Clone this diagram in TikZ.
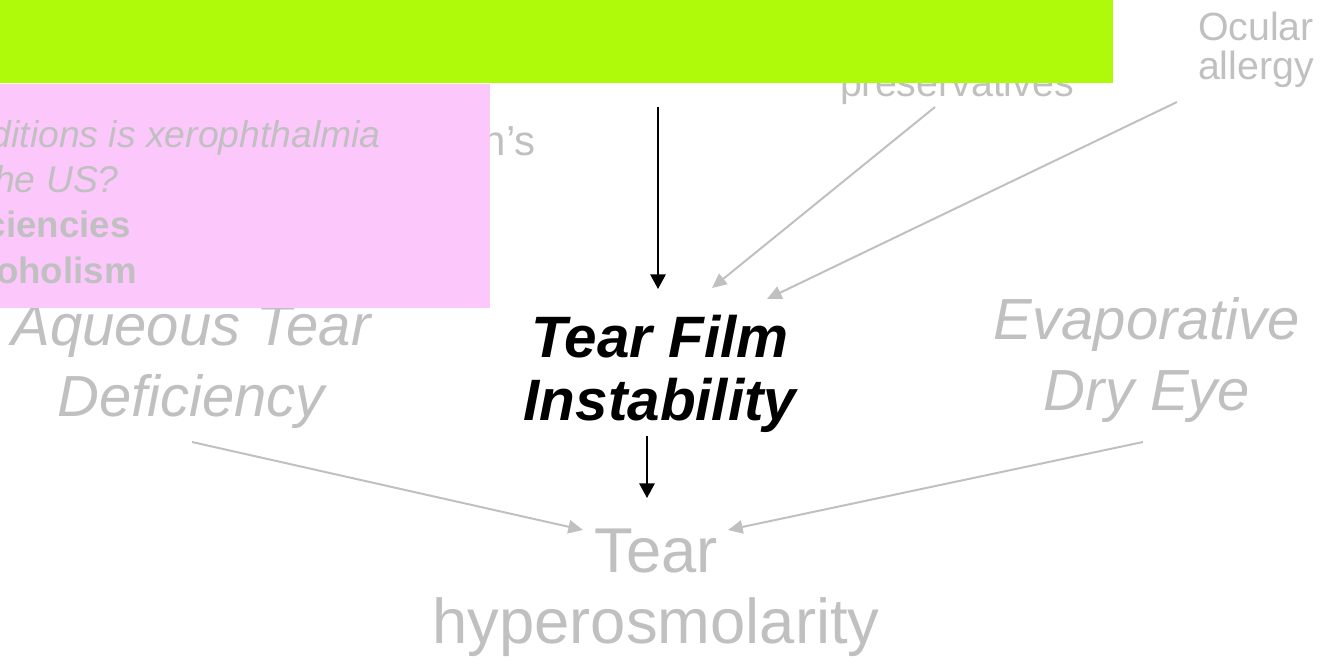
\documentclass[tikz,border=0pt]{standalone}
\usepackage{fontspec}
\setmainfont{Liberation Sans}
\usetikzlibrary{arrows.meta}
\definecolor{slidegreen}{RGB}{175,249,10}
\definecolor{slidepink}{RGB}{252,200,252}
\definecolor{fadegray}{RGB}{192,192,192}
\tikzset{
  faded/.style={text=fadegray, inner sep=0pt, align=center},
  keynode/.style={text=black, inner sep=0pt, align=center,
    font=\fontsize{43.8}{47.25}\selectfont\bfseries\itshape},
  bigital/.style={font=\fontsize{43.5}{53.25}\selectfont\itshape},
  bigplain/.style={font=\fontsize{47.5}{53.25}\selectfont},
  smallplain/.style={font=\fontsize{29.5}{29.25}\selectfont},
  quizital/.style={faded, font=\fontsize{28}{33.75}\selectfont\itshape},
  quizbold/.style={faded, font=\fontsize{27.5}{33.75}\selectfont\bfseries},
  mainarrow/.style={draw=black, line width=1.5pt, -{Triangle[length=11pt,width=11.5pt]}},
  sidearrow/.style={draw=fadegray, line width=1.5pt, -{Triangle[length=11pt,width=10pt]}}
}
\begin{document}
\begin{tikzpicture}[x=0.75pt,y=-0.75pt]
\useasboundingbox (0,0) rectangle (1325,664);
\clip (0,0) rectangle (1325,664);

% concept nodes (anchored on the baseline of their last line)
\node[keynode, anchor=base] (tfi) at (660,420) {Tear Film\\Instability};
\node[faded, bigital, anchor=base] (atd) at (191,416) {Aqueous Tear\\Deficiency};
\node[faded, bigital, anchor=base] (ede) at (1147,410) {Evaporative\\Dry Eye};
\node[faded, bigplain, anchor=base] (thy) at (656,643) {Tear\\hyperosmolarity};
\node[faded, smallplain, anchor=base] (oca) at (1256,79) {Ocular\\allergy};
\node[faded, smallplain, anchor=base] (pres) at (957,96) {preservatives};
\node[faded, font=\fontsize{31.5}{36}\selectfont, anchor=base east] (sjo) at (536,155) {n’s};

% connector end points
\coordinate (topsrc) at (658,107);
\coordinate (tfiin) at (658,289);
\coordinate (tfiout) at (647,436);
\coordinate (thyin) at (647,498);
\coordinate (pressrc) at (935,107);
\coordinate (presend) at (712,288);
\coordinate (ocasrc) at (1177,102);
\coordinate (ocaend) at (767,299);
\coordinate (atdsrc) at (192,442);
\coordinate (atdend) at (583,530);
\coordinate (edesrc) at (1143,442);
\coordinate (edeend) at (728,530);

\draw[mainarrow] (topsrc) -- (tfiin);
\draw[mainarrow] (tfiout) -- (thyin);
\draw[sidearrow] (pressrc) -- (presend);
\draw[sidearrow] (ocasrc) -- (ocaend);
\draw[sidearrow] (atdsrc) -- (atdend);
\draw[sidearrow] (edesrc) -- (edeend);

% overlay panels
\fill[slidegreen] (0,0) rectangle (1112.5,82.7);
\fill[slidepink] (0,83.7) rectangle (490,308);

% quiz text on the pink panel
\node[quizital, anchor=base east] (q1) at (381,147) {ditions is xerophthalmia};
\node[quizital, anchor=base east] (q2) at (119,192) {he US?};
\node[quizbold, anchor=base east] (q3) at (131,237) {ciencies};
\node[quizbold, anchor=base east] (q4) at (137,283) {oholism};
\end{tikzpicture}
\end{document}
